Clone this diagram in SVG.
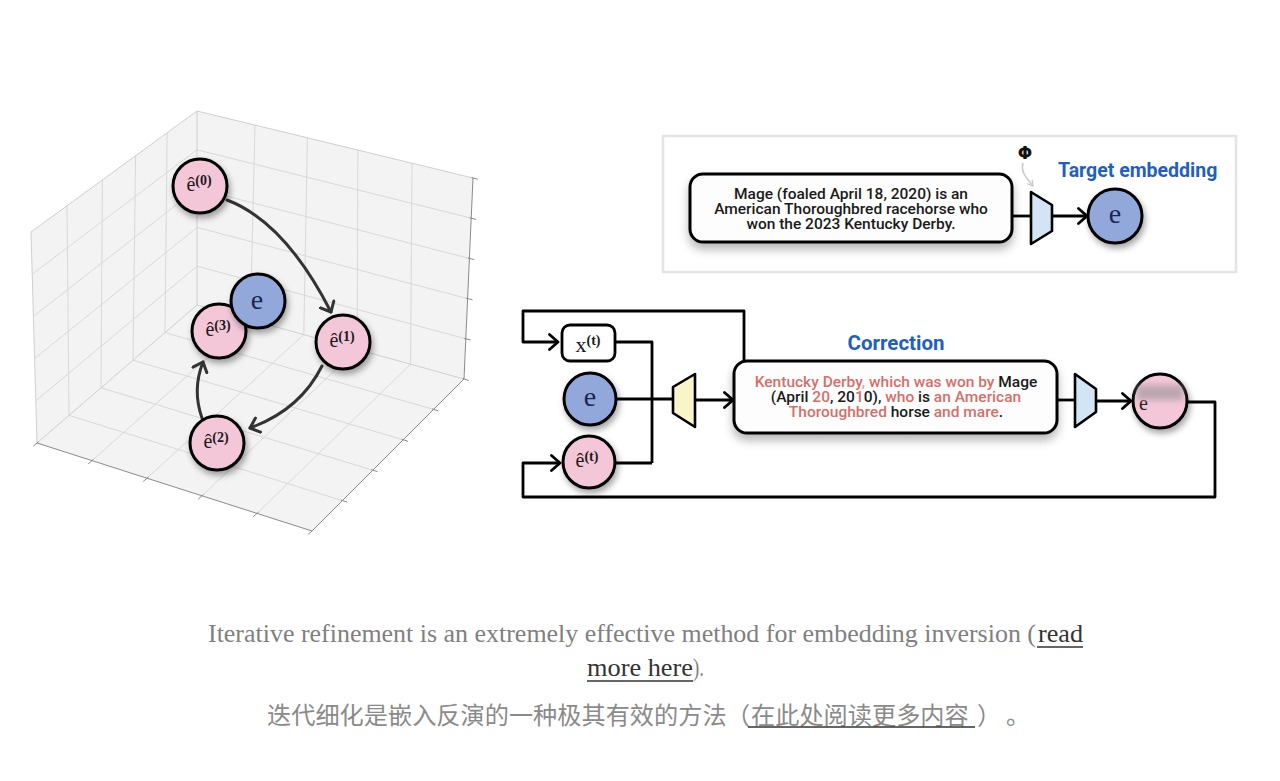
<svg xmlns="http://www.w3.org/2000/svg" width="1280" height="781" viewBox="0 0 1280 781">
<style>
.pane{fill:#f3f3f3;stroke:none}
.grid{fill:none;stroke:#d8d8d8;stroke-width:1}
.edge{fill:none;stroke:#cfcfcf;stroke-width:1}
.axis{fill:none;stroke:#8a8a8a;stroke-width:1}
.pink{fill:#f4c7d8;stroke:#000;stroke-width:3}
.blue{fill:#93a8da;stroke:#000;stroke-width:3}
.m{font-family:"Liberation Serif","DejaVu Serif",serif;fill:#1a1a1a}
.sup{font-weight:bold;font-size:14px}
.ee{font-family:"Liberation Serif","DejaVu Serif",serif;fill:#1b2550;font-size:28px}
.parr{fill:none;stroke:#333;stroke-width:3;stroke-linecap:round}
.wire{fill:none;stroke:#000;stroke-width:2.8;stroke-linejoin:round}
.box{fill:#fdfdfd;stroke:#000;stroke-width:3}
.txt{font-family:Roboto,"Liberation Sans",sans-serif;font-weight:500;font-size:15.5px;fill:#1a1a1a}
.r{fill:#d56f69}
.ttl{font-family:Roboto,"Liberation Sans",sans-serif;font-weight:bold;fill:#1f5fc0}
.cap{font-family:"Liberation Serif","DejaVu Serif",serif;font-size:26px;fill:#808080}
.lnk{fill:#333}
.zh{font-family:"Noto Sans CJK SC","Noto Sans CJK TC",sans-serif;font-size:24.2px;fill:#8a8a8a}
.ul{stroke:#333;stroke-width:1.3}
</style>
<defs>
<filter id="cs" x="-40%" y="-40%" width="190%" height="190%"><feDropShadow dx="2" dy="4" stdDeviation="3" flood-color="#000" flood-opacity="0.35"/></filter>
<filter id="bs" x="-10%" y="-30%" width="120%" height="180%"><feDropShadow dx="0" dy="6" stdDeviation="5" flood-color="#000" flood-opacity="0.28"/></filter>
<filter id="blur" x="-50%" y="-100%" width="200%" height="300%"><feGaussianBlur stdDeviation="3"/></filter>
<marker id="ch" viewBox="0 0 12 18" refX="10" refY="9" markerWidth="12" markerHeight="18" markerUnits="userSpaceOnUse" orient="auto"><path d="M1.5,1.5 L10,9 L1.5,16.5" fill="none" stroke="#000" stroke-width="2.8" stroke-linecap="round" stroke-linejoin="round"/></marker>
<marker id="chp" viewBox="0 0 12 18" refX="10" refY="9" markerWidth="12" markerHeight="18" markerUnits="userSpaceOnUse" orient="auto"><path d="M1.5,1.5 L10,9 L1.5,16.5" fill="none" stroke="#333" stroke-width="3" stroke-linecap="round" stroke-linejoin="round"/></marker>
<marker id="chg" viewBox="0 0 10 10" refX="8" refY="5" markerWidth="8" markerHeight="8" markerUnits="userSpaceOnUse" orient="auto"><path d="M1,1 L8,5 L1,9" fill="none" stroke="#c8c8c8" stroke-width="1.5"/></marker>
</defs>
<rect width="1280" height="781" fill="#fff"/>

<g id="plot3d">
<polygon class="pane" points="31,232 197,111 197,305 37,443"/>
<polygon class="pane" points="197,111 473,178 464,379 197,305"/>
<polygon class="pane" points="37,443 197,305 464,379 312,531"/>
<path class="grid" d="M67,205.4 L69,415.4 M102.4,180 L101,387.8 M135.6,155.8 L133,360.2 M167.1,132.8 L165,332.6 M32.2,274.2 L197,149.8 M33.4,316.4 L197,188.6 M34.6,358.6 L197,227.4 M35.8,400.8 L197,266.2"/>
<path class="grid" d="M255,125.1 L250.4,319.8 M307.4,137.8 L303.8,334.6 M357.9,150.1 L357.2,349.4 M412,163.2 L410.6,364.2 M197,149.8 L471.2,218.2 M197,188.6 L469.4,258.4 M197,227.4 L467.6,298.6 M197,266.2 L465.8,338.8"/>
<path class="grid" d="M69,415.4 L342.4,500.6 M101,387.8 L372.8,470.2 M133,360.2 L403.2,439.8 M165,332.6 L433.6,409.4 M92,460.6 L250.4,319.8 M147,478.2 L303.8,334.6 M202,495.8 L357.2,349.4 M257,513.4 L410.6,364.2"/>
<path class="edge" d="M31,232 L197,111 L473,178 M31,232 L37,443 M197,111 L197,305 M37,443 L197,305 L464,379"/>
<path class="axis" d="M37,443 L312,531 L464,379 L473,178"/>
<path class="axis" d="M38.5,441.7 L33.2,446.3 M93.5,459.3 L88.2,463.9 M148.5,476.9 L143.2,481.5 M203.5,494.5 L198.2,499.1 M258.5,512.1 L253.2,516.7 M313.5,529.7 L308.2,534.3 M340.9,500.1 L347.2,502.1 M371.3,469.7 L377.6,471.7 M401.7,439.3 L408,441.3 M432.1,408.9 L438.4,410.9 M462.5,378.5 L468.8,380.5 M464.3,338.4 L470.7,340 M466.1,298.2 L472.5,299.8 M467.9,258 L474.3,259.6 M469.7,217.8 L476.1,219.4 M471.5,177.6 L477.9,179.2"/>
</g>

<g id="plot-arrows">
<path class="parr" d="M227,200 Q285,222 331,312" marker-end="url(#chp)"/>
<path class="parr" d="M322,366 Q300,410 250,428" marker-end="url(#chp)"/>
<path class="parr" d="M202,418 Q192,390 203,362" marker-end="url(#chp)"/>
</g>

<g id="n-e0"><circle class="pink" cx="200" cy="186" r="27" filter="url(#cs)"/><text class="m" x="199" y="191" text-anchor="middle" font-size="20">ê<tspan class="sup" dy="-6">(0)</tspan></text></g>
<g id="n-e1"><circle class="pink" cx="343" cy="342" r="27" filter="url(#cs)"/><text class="m" x="342" y="347" text-anchor="middle" font-size="20">ê<tspan class="sup" dy="-6">(1)</tspan></text></g>
<g id="n-e2"><circle class="pink" cx="217" cy="443" r="27" filter="url(#cs)"/><text class="m" x="216" y="448" text-anchor="middle" font-size="20">ê<tspan class="sup" dy="-6">(2)</tspan></text></g>
<g id="n-e3"><circle class="pink" cx="219" cy="331" r="27" filter="url(#cs)"/><text class="m" x="218" y="336" text-anchor="middle" font-size="20">ê<tspan class="sup" dy="-6">(3)</tspan></text></g>
<g id="n-e"><circle class="blue" cx="258" cy="301" r="27" filter="url(#cs)"/><text class="ee" x="257" y="309" text-anchor="middle">e</text></g>

<g id="target-frame"><rect x="663" y="136" width="573" height="136" fill="#fff" stroke="#e4e4e4" stroke-width="2.5"/></g>

<g id="connectors">
<path class="wire" d="M1012,216 H1031"/>
<path class="wire" d="M1052,216 H1087" marker-end="url(#ch)"/>
<path d="M1023,163 C1020,172 1027,178 1033,186" fill="none" stroke="#c8c8c8" stroke-width="1.5" marker-end="url(#chg)"/>
<path class="wire" d="M744,361 V311 H523 V342 H558" marker-end="url(#ch)"/>
<path class="wire" d="M615,342 H652 V463 M616,463 H652"/>
<path class="wire" d="M616,399 H673"/>
<path class="wire" d="M695,400 H733" marker-end="url(#ch)"/>
<path class="wire" d="M1057,400 H1075"/>
<path class="wire" d="M1096,401 H1131" marker-end="url(#ch)"/>
<path class="wire" d="M1187,402 H1215 V497 H523 V463 H560" marker-end="url(#ch)"/>
</g>

<g id="n-source-text">
<rect class="box" x="690" y="174" width="322" height="68" rx="13" filter="url(#bs)"/>
<text class="txt" x="851" y="199" text-anchor="middle">Mage (foaled April 18, 2020) is an</text>
<text class="txt" x="851" y="214" text-anchor="middle">American Thoroughbred racehorse who</text>
<text class="txt" x="851" y="229" text-anchor="middle">won the 2023 Kentucky Derby.</text>
</g>
<g id="n-phi"><text x="1025" y="159" text-anchor="middle" font-family="'DejaVu Sans',sans-serif" font-weight="bold" font-size="17" fill="#111">Φ</text></g>
<g id="n-enc1"><polygon points="1031,192 1052,205 1052,231 1031,244" fill="#d3e4f5" stroke="#000" stroke-width="2.6" stroke-linejoin="round"/></g>
<g id="n-target"><circle class="blue" cx="1115" cy="216" r="27" filter="url(#cs)"/><text class="ee" x="1115" y="223" text-anchor="middle" font-size="26">e</text></g>
<g id="lbl-target"><text class="ttl" x="1058" y="177" font-size="19.5">Target embedding</text></g>

<g id="n-xt"><rect x="562" y="325" width="53" height="36" rx="8" fill="#fff" stroke="#000" stroke-width="2.8"/><text class="m" x="588" y="352" text-anchor="middle" font-size="22">x<tspan class="sup" dy="-7">(t)</tspan></text></g>
<g id="n-e-mid"><circle class="blue" cx="590" cy="399" r="26" filter="url(#cs)"/><text class="ee" x="590" y="406" text-anchor="middle" font-size="28">e</text></g>
<g id="n-et"><circle class="pink" cx="589" cy="462" r="26" filter="url(#cs)"/><text class="m" x="587" y="467" text-anchor="middle" font-size="20">ê<tspan class="sup" dy="-6">(t)</tspan></text></g>
<g id="n-dec"><polygon points="673,387 695,374 695,427 673,413" fill="#f8f6c8" stroke="#000" stroke-width="2.6" stroke-linejoin="round"/></g>
<g id="lbl-correction"><text class="ttl" x="896" y="350" text-anchor="middle" font-size="20.5">Correction</text></g>
<g id="n-correction">
<rect class="box" x="734" y="361" width="323" height="72" rx="13" filter="url(#bs)"/>
<text class="txt" x="896" y="387" text-anchor="middle"><tspan class="r">Kentucky Derby</tspan><tspan fill="#e3a29d">, </tspan><tspan class="r">which was won by</tspan> Mage</text>
<text class="txt" x="896" y="402" text-anchor="middle">(April <tspan class="r">20</tspan>, 20<tspan class="r">1</tspan>0), <tspan class="r">who</tspan> is <tspan class="r">an American</tspan></text>
<text class="txt" x="896" y="417" text-anchor="middle"><tspan class="r">Thoroughbred</tspan> horse <tspan class="r">and mare</tspan>.</text>
</g>
<g id="n-enc2"><polygon points="1075,374 1096,389 1096,412 1075,427" fill="#d3e4f5" stroke="#000" stroke-width="2.6" stroke-linejoin="round"/></g>
<g id="n-next"><circle class="pink" cx="1160" cy="401" r="27" filter="url(#cs)"/><text class="m" x="1139" y="410" font-size="20" fill="#555">e</text><rect x="1137" y="385" width="46" height="15" fill="#a89ba2" opacity="0.75" filter="url(#blur)"/></g>

<g id="caption">
<text class="cap" x="208" y="642" textLength="828" lengthAdjust="spacingAndGlyphs">Iterative refinement is an extremely effective method for embedding inversion (</text>
<text class="cap lnk" x="1038" y="642" textLength="45" lengthAdjust="spacingAndGlyphs">read</text>
<line class="ul" x1="1037" y1="647" x2="1083" y2="647"/>
<text class="cap lnk" x="587" y="676" textLength="106" lengthAdjust="spacingAndGlyphs">more here</text>
<line class="ul" x1="587" y1="681" x2="693" y2="681"/>
<text class="cap" x="693" y="676" textLength="11" lengthAdjust="spacingAndGlyphs">).</text>
<text class="zh" x="267" y="724">迭代细化是嵌入反演的一种极其有效的方法</text>
<text class="zh" x="726" y="724">（</text>
<text class="zh lnk" x="751" y="724">在此处阅读更多内容</text>
<line class="ul" x1="748" y1="727" x2="975" y2="727"/>
<text class="zh" x="977" y="724">）</text>
<text class="zh" x="1006" y="724">。</text>
</g>
</svg>
